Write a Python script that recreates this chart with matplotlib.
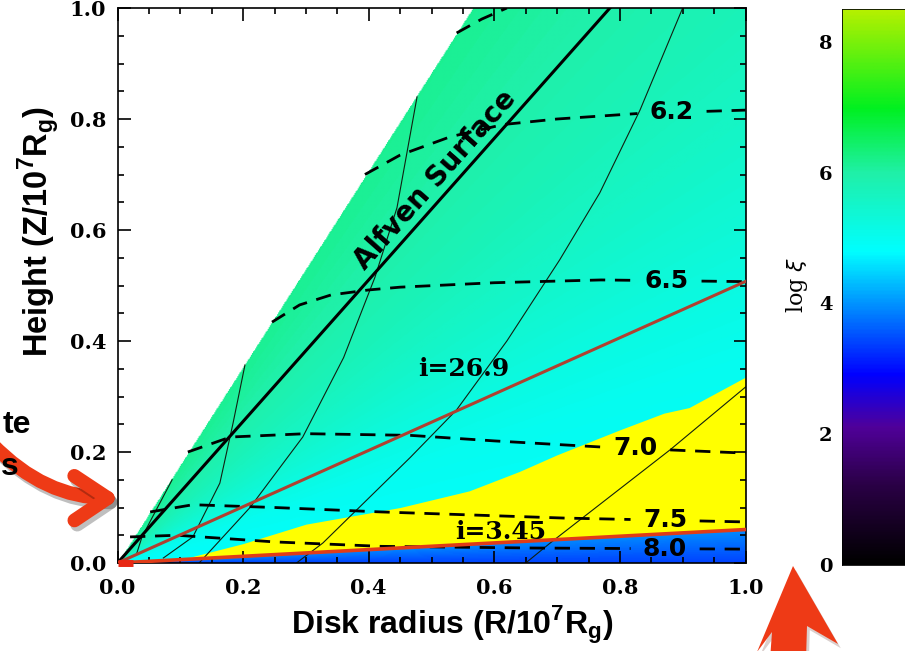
import numpy as np
import matplotlib
matplotlib.use("Agg")
import matplotlib.pyplot as plt
import matplotlib.patheffects as pe
from matplotlib.colors import LinearSegmentedColormap
from matplotlib.patches import FancyArrowPatch, Polygon, ArrowStyle
from matplotlib.ticker import MultipleLocator

plt.rcParams['font.family'] = ['Liberation Sans', 'DejaVu Sans']
plt.rcParams['mathtext.fontset'] = 'custom'
plt.rcParams['mathtext.rm'] = 'Liberation Sans:bold'
plt.rcParams['mathtext.bf'] = 'Liberation Sans:bold'

W, H = 905, 651

# colour table for log xi
ct_level = [0.0, 1.2, 2.1, 2.9, 4.8, 6.0, 7.0, 8.5]
ct_color = ['#000000', '#2a0045', '#50009a', '#0000ff', '#00ffff', '#20f0a8', '#00f020', '#b4f000']
xi_max = 8.5
cb_ticks = [0, 2, 4, 6, 8]

# log xi against angle above the disk plane (deg)
xi_angle = [0.0, 3.45, 3.46, 12.0, 20.0, 26.9, 36.0, 46.0, 54.0, 60.5]
xi_value = [3.4, 3.95, 4.85, 4.9, 5.0, 5.2, 5.5, 5.8, 6.0, 6.15]

wind_edge_deg = 60.5     # outer edge of the flow
alfven_deg = 51.9        # Alfven surface
incl = [26.9, 3.45]      # lines of sight

# upper edge of the thermally unstable zone
unst_r = [0.10, 0.20, 0.30, 0.45, 0.56, 0.64, 0.70, 0.80, 0.87, 0.91, 1.00]
unst_z = [0.006, 0.035, 0.07, 0.10, 0.13, 0.165, 0.195, 0.24, 0.27, 0.28, 0.335]

# density contours (dashed)
c60_r = [0.54, 0.58, 0.62]
c60_z = [0.955, 0.98, 1.0]
c62_r = [0.394, 0.45, 0.53, 0.614, 0.70, 0.83, 1.0]
c62_z = [0.70, 0.735, 0.768, 0.79, 0.80, 0.81, 0.816]
c65_r = [0.246, 0.29, 0.34, 0.40, 0.45, 0.60, 0.77, 1.0]
c65_z = [0.434, 0.465, 0.483, 0.492, 0.497, 0.505, 0.51, 0.507]
c70_r = [0.112, 0.18, 0.30, 0.466, 0.60, 0.77, 1.0]
c70_z = [0.20, 0.227, 0.233, 0.23, 0.22, 0.209, 0.198]
c75_r = [0.052, 0.12, 0.25, 0.42, 0.71, 1.0]
c75_z = [0.092, 0.105, 0.10, 0.092, 0.081, 0.074]
c80_r = [0.02, 0.095, 0.25, 0.42, 0.66, 1.0]
c80_z = [0.047, 0.05, 0.038, 0.03, 0.027, 0.025]
c_labels = ['6.2', '6.5', '7.0', '7.5', '8.0']
c_label_r = [0.883, 0.875, 0.825, 0.872, 0.872]

# field lines (thin solid)
fl1_r = [0.03, 0.039, 0.087]
fl1_z = [0.015, 0.047, 0.15]
fl2_r = [0.073, 0.12, 0.163, 0.184, 0.203]
fl2_z = [0.009, 0.047, 0.144, 0.252, 0.357]
fl3_r = [0.13, 0.211, 0.295, 0.36, 0.41, 0.445, 0.477]
fl3_z = [0.0, 0.10, 0.227, 0.37, 0.515, 0.64, 0.84]
fl4_r = [0.285, 0.327, 0.466, 0.54, 0.62, 0.704, 0.768, 0.832, 0.90]
fl4_z = [0.0, 0.036, 0.19, 0.276, 0.40, 0.546, 0.667, 0.816, 1.0]
fl5_r = [0.65, 0.689, 0.88, 1.0]
fl5_z = [0.0, 0.036, 0.204, 0.317]

cmap = LinearSegmentedColormap.from_list(
    'xi', [(l / xi_max, c) for l, c in zip(ct_level, ct_color)])
cmap.set_bad('white')

fig = plt.figure(figsize=(W / 100, H / 100), dpi=100)
ax = fig.add_axes([117.5 / W, 1 - 563 / H, 628 / W, 555 / H])

# log xi map
g = np.linspace(0, 1, 600)
R, Z = np.meshgrid(g, g)
ang = np.degrees(np.arctan2(Z, R))
xi = np.interp(ang, xi_angle, xi_value)
xi = np.ma.masked_where(ang > wind_edge_deg, xi)
ax.imshow(xi, origin='lower', extent=[0, 1, 0, 1], cmap=cmap, vmin=0, vmax=xi_max,
          aspect='auto', interpolation='bilinear', zorder=0)

t_low = np.tan(np.radians(incl[1]))
ur = np.array(unst_r)
ax.fill_between(ur, ur * t_low, unst_z, color='#ffff00', lw=0, zorder=1)

# field lines
for r, z in [(fl1_r, fl1_z), (fl2_r, fl2_z), (fl3_r, fl3_z), (fl4_r, fl4_z), (fl5_r, fl5_z)]:
    ax.plot(r, z, color='#102010', lw=0.8, zorder=2)

# dashed contours with a gap for the label
dash_kw = dict(color='black', lw=2.0, dashes=(5.5, 3.5), zorder=3)
ax.plot(c60_r, c60_z, **dash_kw)
contours = [(c62_r, c62_z), (c65_r, c65_z), (c70_r, c70_z), (c75_r, c75_z), (c80_r, c80_z)]
gap = 0.055
for (r, z), lab, at in zip(contours, c_labels, c_label_r):
    r = np.asarray(r)
    z = np.asarray(z)
    lo, hi = at - gap, at + gap
    keep_l = r < lo
    keep_r = r > hi
    ax.plot(np.r_[r[keep_l], lo], np.r_[z[keep_l], np.interp(lo, r, z)], **dash_kw)
    ax.plot(np.r_[hi, r[keep_r]], np.r_[np.interp(hi, r, z), z[keep_r]], **dash_kw)
    ax.text(at, np.interp(at, r, z), lab, ha='center', va='center', fontsize=18,
            fontweight='bold', family='DejaVu Sans', zorder=5)

# Alfven surface
a_slope = np.tan(np.radians(alfven_deg))
ax.plot([0, 1], [0, a_slope], color='black', lw=2.2, zorder=4)
ax.text(0.505, 0.69, 'Alfven Surface', rotation=alfven_deg, transform_rotates_text=True,
        rotation_mode='anchor', ha='center', va='center', fontsize=20, fontweight='bold',
        family='DejaVu Sans', zorder=5)

# inclination lines
ax.plot([0, 1], [0, np.tan(np.radians(incl[0]))], color='#b04030', lw=2.2, zorder=4)
ax.plot([0, 1], [0, t_low], color='#e03c18', lw=2.6, zorder=4)
ax.plot([0, 0.025], [0, 0], color='#e82814', lw=5, solid_capstyle='butt', clip_on=False, zorder=6)
ax.text(0.552, 0.35, 'i=%.1f' % incl[0], ha='center', va='center', fontsize=18,
        fontweight='bold', family='DejaVu Serif', zorder=5)
ax.text(0.61, 0.056, 'i=%.2f' % incl[1], ha='center', va='center', fontsize=18,
        fontweight='bold', family='DejaVu Serif', zorder=5)

ax.set_xlim(0, 1)
ax.set_ylim(0, 1)
ax.set_xticks(np.arange(0, 1.01, 0.2))
ax.set_yticks(np.arange(0, 1.01, 0.2))
ax.xaxis.set_minor_locator(MultipleLocator(0.05))
ax.yaxis.set_minor_locator(MultipleLocator(0.05))
ax.xaxis.set_major_formatter(lambda v, p: '%.1f' % v)
ax.yaxis.set_major_formatter(lambda v, p: '%.1f' % v)
ax.tick_params(which='both', direction='in', top=True, right=True, width=1.2, color='black')
ax.tick_params(which='major', length=9)
ax.tick_params(which='minor', length=4.5)
ax.tick_params(axis='x', pad=11)
ax.tick_params(axis='y', pad=8)
for lab in ax.get_xticklabels() + ax.get_yticklabels():
    lab.set_family('DejaVu Serif')
    lab.set_fontweight('bold')
    lab.set_fontsize(15)
for s in ax.spines.values():
    s.set_linewidth(1.2)

fig.text(452 / W, 1 - 625 / H, r'Disk radius (R/10$^{\mathbf{7}}$R$_{\mathbf{g}}$)',
         ha='center', va='center', fontsize=23, fontweight='bold')
fig.text(38 / W, 1 - 232 / H, r'Height (Z/10$^{\mathbf{7}}$R$_{\mathbf{g}}$)',
         ha='center', va='center', rotation=90, fontsize=23.5, fontweight='bold')

# colour bar
cax = fig.add_axes([842 / W, 1 - 565 / H, 0.1, 556 / H])
cb = np.linspace(0, xi_max, 400).reshape(-1, 1)
cax.imshow(cb, origin='lower', extent=[0, 1, 0, xi_max], cmap=cmap, vmin=0, vmax=xi_max,
           aspect='auto')
cax.set_xlim(0, 1)
cax.set_ylim(0, xi_max)
cax.set_xticks([])
cax.set_yticks(cb_ticks)
cax.set_yticklabels([str(t) for t in cb_ticks])
cax.tick_params(axis='y', length=0, pad=7)
for lab in cax.get_yticklabels():
    lab.set_family('DejaVu Serif')
    lab.set_fontweight('bold')
    lab.set_fontsize(14)
for s in cax.spines.values():
    s.set_linewidth(0.6)
fig.text(797 / W, 1 - 285 / H, r'log $\xi$', rotation=90, ha='center', va='center',
         fontsize=16, family='DejaVu Serif')

# overlay: callout text and arrows
fig.text(31 / W, 1 - 425 / H, 'te', ha='right', va='center', fontsize=23, fontweight='bold')
fig.text(1 / W, 1 - 467 / H, 's', ha='left', va='center', fontsize=23, fontweight='bold')

red = '#ee3a16'


def fxy(px, py):
    return px / W, 1 - py / H


arr = FancyArrowPatch(fxy(-10, 442), fxy(123, 498), transform=fig.transFigure,
                      connectionstyle='arc3,rad=0.22',
                      arrowstyle=ArrowStyle('->', head_length=24, head_width=16),
                      mutation_scale=1, lw=10, color=red, capstyle='round', joinstyle='round',
                      path_effects=[pe.SimpleLineShadow(offset=(2, -3), alpha=0.25),
                                    pe.Normal()])
fig.add_artist(arr)

up = Polygon([fxy(793, 566), fxy(838, 644), fxy(807, 626), fxy(806, 660),
              fxy(770, 660), fxy(772, 632), fxy(757, 652)],
             closed=True, transform=fig.transFigure, color=red, lw=0,
             path_effects=[pe.SimplePatchShadow(offset=(2, -3), alpha=0.2), pe.Normal()])
fig.add_artist(up)

fig.savefig('out.png', dpi=100)
